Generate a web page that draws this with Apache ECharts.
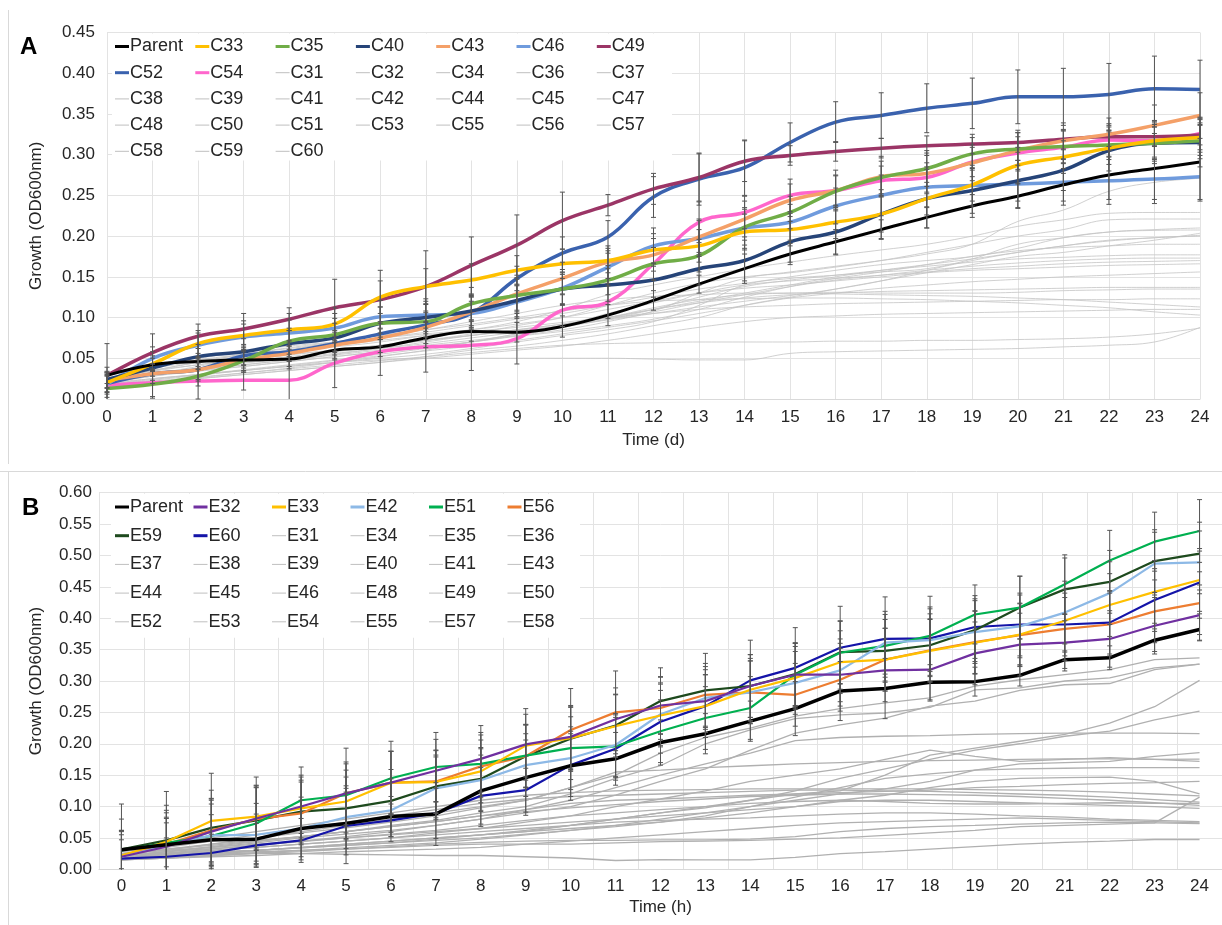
<!DOCTYPE html>
<html>
<head>
<meta charset="utf-8">
<script src="https://cdn.jsdelivr.net/npm/echarts@6/dist/echarts.min.js"></script>
<style>
html,body{margin:0;padding:0;background:#fff;}
#chart{width:1222px;height:925px;}
</style>
</head>
<body>
<div id="chart"></div>
<script>
// ---------- time points ----------
const days = [0,1,2,3,4,5,6,7,8,9,10,11,12,13,14,15,16,17,18,19,20,21,22,23,24];
const hourLabels = ['0','1','2','3','4','5','6','7','8','9','10','11','12','13','14','15','16','17','18','19','20','21','22','23','24'];
const yTicksA = [0,0.05,0.10,0.15,0.20,0.25,0.30,0.35,0.40,0.45];
const yTicksB = [0,0.05,0.10,0.15,0.20,0.25,0.30,0.35,0.40,0.45,0.50,0.55,0.60];

// ---------- panel A: growth over days (OD600) ----------
const parentA = [0.029,0.042,0.046,0.048,0.049,0.060,0.064,0.075,0.083,0.082,0.089,0.103,0.121,0.141,0.160,0.178,0.193,0.208,0.223,0.237,0.249,0.263,0.275,0.283,0.291];
const c33 = [0.020,0.043,0.068,0.078,0.085,0.092,0.125,0.138,0.146,0.158,0.166,0.170,0.183,0.188,0.205,0.208,0.217,0.227,0.246,0.263,0.287,0.297,0.308,0.317,0.321];
const c35 = [0.013,0.018,0.028,0.047,0.071,0.079,0.093,0.095,0.117,0.127,0.135,0.146,0.166,0.176,0.211,0.229,0.255,0.272,0.283,0.301,0.307,0.310,0.312,0.314,0.317];
const c40 = [0.024,0.038,0.052,0.058,0.068,0.075,0.093,0.100,0.108,0.121,0.135,0.140,0.146,0.160,0.170,0.193,0.205,0.227,0.246,0.256,0.268,0.281,0.305,0.314,0.315];
const c43 = [0.023,0.031,0.036,0.048,0.056,0.066,0.075,0.088,0.107,0.129,0.148,0.168,0.177,0.199,0.221,0.244,0.256,0.273,0.277,0.290,0.305,0.317,0.325,0.336,0.348];
const c46 = [0.018,0.050,0.066,0.076,0.081,0.087,0.101,0.103,0.105,0.119,0.136,0.162,0.188,0.197,0.210,0.217,0.237,0.250,0.260,0.262,0.264,0.266,0.268,0.270,0.273];
const c49 = [0.029,0.057,0.077,0.086,0.098,0.112,0.122,0.138,0.164,0.189,0.219,0.238,0.258,0.272,0.292,0.299,0.304,0.308,0.311,0.313,0.315,0.319,0.322,0.322,0.324];
const c52 = [0.019,0.031,0.036,0.053,0.058,0.068,0.080,0.091,0.105,0.148,0.179,0.199,0.248,0.270,0.284,0.315,0.340,0.348,0.357,0.363,0.371,0.371,0.374,0.381,0.380];
const c54 = [0.017,0.020,0.022,0.023,0.023,0.044,0.058,0.064,0.066,0.074,0.109,0.119,0.166,0.217,0.229,0.250,0.256,0.268,0.272,0.291,0.302,0.309,0.318,0.317,0.326];

const c31 = [0.022,0.030,0.036,0.042,0.048,0.054,0.060,0.066,0.072,0.078,0.085,0.095,0.108,0.130,0.148,0.156,0.163,0.170,0.178,0.190,0.218,0.232,0.255,0.266,0.271];
const c32 = [0.025,0.035,0.045,0.052,0.058,0.064,0.070,0.078,0.085,0.095,0.110,0.128,0.140,0.150,0.160,0.168,0.176,0.183,0.190,0.200,0.212,0.220,0.228,0.229,0.229];
const c34 = [0.020,0.030,0.038,0.045,0.052,0.058,0.065,0.072,0.080,0.090,0.100,0.115,0.130,0.142,0.150,0.155,0.162,0.170,0.180,0.190,0.200,0.208,0.220,0.221,0.221];
const c36 = [0.018,0.025,0.030,0.035,0.040,0.045,0.050,0.055,0.062,0.070,0.078,0.085,0.095,0.115,0.140,0.148,0.152,0.156,0.160,0.172,0.190,0.198,0.205,0.208,0.210];
const c37 = [0.030,0.040,0.048,0.055,0.062,0.068,0.075,0.082,0.090,0.098,0.105,0.115,0.125,0.135,0.142,0.150,0.158,0.165,0.170,0.175,0.185,0.198,0.205,0.207,0.2075];
const c38 = [0.015,0.020,0.025,0.030,0.035,0.040,0.045,0.052,0.060,0.065,0.072,0.080,0.090,0.100,0.115,0.125,0.135,0.145,0.155,0.165,0.175,0.180,0.188,0.195,0.2035];
const c39 = [0.025,0.035,0.042,0.050,0.055,0.060,0.066,0.072,0.078,0.085,0.092,0.100,0.110,0.120,0.130,0.140,0.150,0.158,0.165,0.172,0.180,0.188,0.195,0.198,0.201];
const c41 = [0.020,0.028,0.035,0.040,0.046,0.052,0.058,0.063,0.070,0.078,0.088,0.098,0.110,0.125,0.138,0.146,0.152,0.158,0.163,0.168,0.172,0.174,0.176,0.177,0.177];
const c42 = [0.025,0.032,0.038,0.044,0.050,0.056,0.062,0.068,0.075,0.082,0.090,0.098,0.107,0.118,0.128,0.138,0.146,0.152,0.158,0.163,0.167,0.170,0.172,0.173,0.173];
const c44 = [0.018,0.024,0.030,0.036,0.042,0.048,0.055,0.062,0.070,0.080,0.090,0.105,0.118,0.130,0.140,0.145,0.148,0.152,0.156,0.160,0.163,0.166,0.168,0.169,0.170];
const c45 = [0.030,0.042,0.050,0.058,0.065,0.070,0.075,0.080,0.085,0.092,0.100,0.110,0.120,0.130,0.136,0.140,0.145,0.150,0.155,0.158,0.160,0.162,0.164,0.165,0.166];
const c47 = [0.022,0.030,0.036,0.042,0.048,0.055,0.062,0.070,0.078,0.085,0.092,0.100,0.110,0.118,0.124,0.128,0.130,0.132,0.133,0.134,0.135,0.136,0.137,0.137,0.137];
const c48 = [0.015,0.020,0.026,0.032,0.038,0.045,0.052,0.060,0.070,0.080,0.090,0.100,0.112,0.122,0.128,0.130,0.131,0.130,0.130,0.130,0.131,0.133,0.134,0.135,0.135];
const c50 = [0.020,0.030,0.040,0.050,0.060,0.070,0.078,0.085,0.095,0.105,0.115,0.122,0.126,0.128,0.130,0.130,0.129,0.128,0.127,0.126,0.124,0.122,0.119,0.116,0.113];
const c51 = [0.025,0.035,0.045,0.055,0.063,0.070,0.078,0.085,0.092,0.100,0.108,0.115,0.120,0.122,0.123,0.124,0.124,0.123,0.122,0.120,0.118,0.115,0.112,0.107,0.103];
const c53 = [0.015,0.020,0.025,0.030,0.035,0.040,0.045,0.050,0.055,0.060,0.065,0.072,0.080,0.088,0.095,0.100,0.102,0.104,0.105,0.106,0.107,0.108,0.109,0.110,0.110];
const c55 = [0.020,0.025,0.030,0.035,0.040,0.045,0.048,0.050,0.050,0.050,0.050,0.050,0.049,0.048,0.048,0.056,0.058,0.059,0.060,0.061,0.062,0.064,0.066,0.070,0.088];
const c56 = [0.018,0.022,0.027,0.032,0.037,0.042,0.047,0.052,0.057,0.062,0.066,0.068,0.069,0.070,0.070,0.070,0.071,0.071,0.072,0.072,0.073,0.074,0.076,0.080,0.087];
const c57 = [0.020,0.028,0.034,0.040,0.046,0.052,0.058,0.064,0.070,0.077,0.083,0.090,0.098,0.110,0.125,0.138,0.148,0.156,0.165,0.175,0.182,0.186,0.188,0.190,0.190];
const c58 = [0.026,0.034,0.042,0.048,0.054,0.060,0.066,0.072,0.078,0.084,0.090,0.097,0.105,0.113,0.120,0.127,0.135,0.145,0.158,0.170,0.180,0.188,0.194,0.198,0.200];
const c59 = [0.030,0.038,0.046,0.054,0.060,0.066,0.072,0.078,0.083,0.088,0.094,0.100,0.105,0.110,0.113,0.115,0.117,0.118,0.119,0.120,0.121,0.122,0.122,0.123,0.123];
const c60 = [0.017,0.023,0.029,0.035,0.041,0.047,0.053,0.059,0.065,0.072,0.080,0.088,0.096,0.105,0.115,0.124,0.130,0.136,0.140,0.144,0.147,0.150,0.152,0.154,0.156];

// standard deviations of the highlighted strains, panel A
const sdParentA = [0.010,0.008,0.010,0.010,0.012,0.010,0.012,0.012,0.012,0.012,0.013,0.013,0.012,0.011,0.018,0.013,0.015,0.012,0.013,0.014,0.015,0.020,0.030,0.043,0.046];
const sdC33 = [0.012,0.015,0.016,0.018,0.020,0.020,0.020,0.022,0.020,0.018,0.018,0.015,0.020,0.020,0.022,0.020,0.020,0.022,0.020,0.020,0.022,0.020,0.020,0.025,0.022];
const sdC35 = [0.015,0.017,0.012,0.014,0.016,0.020,0.020,0.022,0.020,0.020,0.018,0.018,0.020,0.020,0.022,0.020,0.020,0.020,0.022,0.020,0.020,0.020,0.018,0.020,0.022];
const sdC40 = [0.010,0.015,0.015,0.016,0.016,0.018,0.020,0.020,0.020,0.020,0.020,0.020,0.021,0.020,0.025,0.025,0.028,0.030,0.036,0.028,0.025,0.025,0.025,0.025,0.030];
const sdC43 = [0.010,0.012,0.014,0.015,0.016,0.018,0.018,0.020,0.020,0.020,0.020,0.020,0.020,0.022,0.022,0.020,0.025,0.025,0.025,0.022,0.025,0.022,0.020,0.025,0.028];
const sdC46 = [0.012,0.014,0.015,0.016,0.016,0.018,0.020,0.020,0.020,0.020,0.020,0.020,0.022,0.022,0.025,0.022,0.022,0.025,0.025,0.025,0.029,0.028,0.029,0.025,0.030];
const sdC49 = [0.039,0.023,0.015,0.019,0.014,0.035,0.036,0.044,0.035,0.037,0.035,0.013,0.019,0.029,0.025,0.012,0.012,0.012,0.012,0.012,0.012,0.012,0.012,0.012,0.012];
const sdC52 = [0.010,0.012,0.012,0.012,0.012,0.014,0.015,0.015,0.015,0.015,0.020,0.020,0.025,0.032,0.034,0.024,0.025,0.028,0.030,0.031,0.033,0.035,0.038,0.040,0.036];
const sdC54 = [0.015,0.017,0.022,0.012,0.024,0.030,0.029,0.031,0.031,0.031,0.020,0.020,0.020,0.025,0.020,0.020,0.018,0.018,0.018,0.018,0.020,0.020,0.020,0.020,0.020];

// ---------- panel B: growth over hours (OD600) ----------
const parentB = [0.031,0.039,0.047,0.048,0.065,0.073,0.084,0.088,0.125,0.146,0.165,0.176,0.202,0.216,0.236,0.256,0.284,0.288,0.298,0.299,0.309,0.334,0.337,0.365,0.382];
const e32 = [0.020,0.036,0.060,0.081,0.100,0.121,0.138,0.157,0.176,0.199,0.211,0.239,0.261,0.268,0.292,0.310,0.310,0.317,0.318,0.344,0.358,0.361,0.367,0.388,0.405];
const e33 = [0.022,0.044,0.077,0.084,0.097,0.108,0.138,0.139,0.156,0.197,0.209,0.228,0.245,0.260,0.286,0.305,0.330,0.334,0.348,0.361,0.374,0.396,0.421,0.442,0.461];
const e42 = [0.020,0.038,0.054,0.055,0.065,0.083,0.094,0.129,0.142,0.166,0.177,0.198,0.247,0.273,0.282,0.297,0.317,0.361,0.365,0.378,0.387,0.409,0.440,0.487,0.489];
const e51 = [0.030,0.042,0.053,0.073,0.110,0.118,0.145,0.163,0.168,0.181,0.193,0.196,0.220,0.241,0.257,0.310,0.345,0.356,0.372,0.406,0.417,0.454,0.492,0.522,0.539];
const e56 = [0.022,0.040,0.062,0.080,0.089,0.121,0.138,0.140,0.164,0.180,0.222,0.250,0.257,0.278,0.282,0.278,0.302,0.334,0.349,0.362,0.373,0.383,0.390,0.411,0.424];
const e59 = [0.032,0.046,0.066,0.078,0.092,0.097,0.109,0.132,0.144,0.180,0.208,0.229,0.268,0.285,0.292,0.311,0.346,0.348,0.357,0.381,0.417,0.446,0.458,0.491,0.503];
const e60 = [0.017,0.020,0.026,0.038,0.046,0.069,0.078,0.089,0.117,0.126,0.166,0.192,0.235,0.260,0.301,0.321,0.353,0.367,0.368,0.386,0.390,0.390,0.393,0.429,0.457];

const e31 = [0.030,0.038,0.045,0.050,0.058,0.066,0.075,0.085,0.098,0.110,0.130,0.150,0.185,0.210,0.225,0.244,0.256,0.265,0.273,0.292,0.302,0.310,0.318,0.334,0.337];
const e34 = [0.025,0.032,0.040,0.046,0.052,0.060,0.070,0.078,0.090,0.100,0.120,0.145,0.165,0.200,0.222,0.240,0.246,0.249,0.258,0.286,0.289,0.300,0.305,0.321,0.327];
const e35 = [0.020,0.028,0.035,0.042,0.050,0.056,0.062,0.070,0.080,0.090,0.100,0.118,0.140,0.160,0.190,0.217,0.230,0.241,0.260,0.268,0.285,0.294,0.296,0.318,0.327];
const e36 = [0.020,0.024,0.028,0.030,0.034,0.038,0.042,0.048,0.055,0.060,0.070,0.080,0.090,0.098,0.110,0.120,0.125,0.150,0.182,0.193,0.204,0.215,0.233,0.259,0.301];
const e37 = [0.018,0.022,0.026,0.030,0.035,0.040,0.045,0.050,0.055,0.062,0.070,0.080,0.090,0.100,0.110,0.125,0.145,0.160,0.175,0.190,0.200,0.212,0.220,0.238,0.252];
const e38 = [0.020,0.026,0.032,0.038,0.045,0.052,0.060,0.070,0.080,0.095,0.110,0.130,0.150,0.168,0.185,0.205,0.210,0.212,0.213,0.215,0.216,0.217,0.217,0.217,0.216];
const e39 = [0.015,0.018,0.022,0.026,0.030,0.034,0.038,0.042,0.048,0.055,0.062,0.070,0.080,0.090,0.100,0.110,0.120,0.128,0.140,0.158,0.168,0.170,0.172,0.180,0.186];
const e40 = [0.025,0.030,0.040,0.050,0.060,0.070,0.080,0.090,0.100,0.110,0.130,0.155,0.158,0.162,0.165,0.168,0.170,0.172,0.173,0.174,0.175,0.176,0.176,0.175,0.1755];
const e41 = [0.020,0.025,0.030,0.035,0.040,0.045,0.050,0.058,0.065,0.075,0.085,0.100,0.112,0.125,0.140,0.150,0.160,0.175,0.190,0.180,0.172,0.175,0.178,0.175,0.172];
const e43 = [0.015,0.020,0.025,0.030,0.035,0.040,0.045,0.050,0.055,0.060,0.065,0.070,0.075,0.085,0.100,0.115,0.130,0.145,0.152,0.158,0.160,0.161,0.162,0.162,0.162];
const e44 = [0.030,0.040,0.050,0.060,0.070,0.080,0.090,0.100,0.110,0.118,0.122,0.125,0.126,0.127,0.128,0.128,0.128,0.128,0.128,0.127,0.126,0.125,0.123,0.120,0.117];
const e45 = [0.028,0.035,0.045,0.055,0.065,0.075,0.085,0.095,0.105,0.112,0.116,0.118,0.120,0.122,0.124,0.126,0.126,0.125,0.124,0.122,0.120,0.118,0.115,0.111,0.107];
const e46 = [0.020,0.028,0.036,0.044,0.052,0.060,0.068,0.076,0.085,0.092,0.098,0.103,0.108,0.112,0.116,0.118,0.120,0.120,0.119,0.118,0.116,0.113,0.110,0.106,0.102];
const e48 = [0.025,0.030,0.035,0.040,0.045,0.050,0.055,0.060,0.065,0.070,0.075,0.080,0.085,0.090,0.095,0.100,0.108,0.110,0.110,0.108,0.106,0.104,0.102,0.100,0.097];
const e49 = [0.020,0.025,0.030,0.035,0.040,0.045,0.050,0.055,0.060,0.065,0.070,0.075,0.078,0.080,0.082,0.085,0.088,0.090,0.090,0.088,0.085,0.083,0.080,0.078,0.076];
const e50 = [0.015,0.018,0.020,0.022,0.025,0.028,0.030,0.032,0.035,0.040,0.045,0.050,0.055,0.060,0.065,0.070,0.074,0.076,0.078,0.080,0.082,0.080,0.078,0.076,0.074];
const e52 = [0.020,0.022,0.025,0.028,0.030,0.032,0.035,0.038,0.040,0.040,0.040,0.042,0.044,0.045,0.046,0.048,0.050,0.054,0.058,0.062,0.068,0.070,0.072,0.074,0.115];
const e53 = [0.020,0.022,0.024,0.026,0.025,0.024,0.023,0.022,0.022,0.020,0.018,0.014,0.0155,0.015,0.015,0.019,0.025,0.028,0.032,0.036,0.040,0.043,0.045,0.0475,0.0475];
const e54 = [0.015,0.018,0.022,0.025,0.028,0.032,0.036,0.040,0.043,0.045,0.046,0.046,0.047,0.047,0.048,0.052,0.060,0.065,0.068,0.070,0.072,0.074,0.075,0.074,0.073];
const e55 = [0.022,0.028,0.033,0.038,0.044,0.050,0.056,0.062,0.070,0.078,0.085,0.090,0.095,0.100,0.105,0.108,0.110,0.108,0.105,0.104,0.104,0.105,0.106,0.105,0.105];
const e57 = [0.018,0.022,0.026,0.030,0.034,0.038,0.042,0.046,0.050,0.056,0.062,0.068,0.075,0.082,0.090,0.100,0.110,0.118,0.130,0.140,0.145,0.146,0.147,0.140,0.120];
const e58 = [0.025,0.032,0.038,0.045,0.052,0.060,0.068,0.076,0.085,0.095,0.105,0.110,0.112,0.115,0.118,0.120,0.122,0.124,0.126,0.130,0.132,0.135,0.137,0.138,0.140];

// standard deviations of the highlighted strains, panel B
const sdParentB = [0.030,0.035,0.040,0.040,0.045,0.050,0.032,0.050,0.057,0.060,0.055,0.042,0.036,0.032,0.032,0.043,0.047,0.048,0.028,0.023,0.017,0.014,0.019,0.018,0.018];
const sdE32 = [0.040,0.045,0.050,0.050,0.050,0.050,0.050,0.050,0.053,0.057,0.050,0.050,0.045,0.050,0.050,0.050,0.050,0.050,0.050,0.050,0.050,0.045,0.045,0.045,0.040];
const sdE33 = [0.040,0.050,0.076,0.050,0.050,0.050,0.050,0.050,0.050,0.050,0.050,0.050,0.050,0.050,0.050,0.050,0.050,0.050,0.050,0.050,0.050,0.050,0.050,0.050,0.050];
const sdE42 = [0.035,0.045,0.050,0.050,0.050,0.050,0.050,0.050,0.050,0.050,0.050,0.050,0.050,0.050,0.050,0.050,0.050,0.050,0.050,0.050,0.050,0.050,0.050,0.050,0.050];
const sdE51 = [0.050,0.060,0.060,0.060,0.053,0.050,0.059,0.055,0.050,0.050,0.050,0.050,0.050,0.050,0.050,0.050,0.050,0.050,0.063,0.047,0.050,0.047,0.048,0.047,0.050];
const sdE56 = [0.040,0.050,0.050,0.050,0.050,0.072,0.050,0.050,0.050,0.050,0.066,0.066,0.050,0.050,0.050,0.050,0.050,0.050,0.050,0.050,0.050,0.050,0.050,0.050,0.050];
const sdE59 = [0.072,0.078,0.060,0.069,0.050,0.050,0.050,0.050,0.050,0.050,0.050,0.050,0.053,0.059,0.050,0.050,0.050,0.050,0.050,0.050,0.050,0.050,0.050,0.050,0.050];
const sdE60 = [0.030,0.030,0.030,0.035,0.035,0.060,0.026,0.040,0.045,0.035,0.050,0.050,0.050,0.050,0.064,0.064,0.066,0.067,0.050,0.050,0.050,0.050,0.050,0.050,0.050];

// ---------- series definitions ----------
const highlightA = [
  ['Parent', parentA, sdParentA, '#000000'],
  ['C33', c33, sdC33, '#FFC000'],
  ['C35', c35, sdC35, '#70AD47'],
  ['C40', c40, sdC40, '#264478'],
  ['C43', c43, sdC43, '#F4A068'],
  ['C46', c46, sdC46, '#6F9BDD'],
  ['C49', c49, sdC49, '#9B3566'],
  ['C52', c52, sdC52, '#3A62AE'],
  ['C54', c54, sdC54, '#FF66CC']
];
const otherA = [
  ['C31', c31], ['C32', c32], ['C34', c34], ['C36', c36], ['C37', c37], ['C38', c38],
  ['C39', c39], ['C41', c41], ['C42', c42], ['C44', c44], ['C45', c45], ['C47', c47],
  ['C48', c48], ['C50', c50], ['C51', c51], ['C53', c53], ['C55', c55], ['C56', c56],
  ['C57', c57], ['C58', c58], ['C59', c59], ['C60', c60]
];
const highlightB = [
  ['Parent', parentB, sdParentB, '#000000'],
  ['E32', e32, sdE32, '#7030A0'],
  ['E33', e33, sdE33, '#FFC000'],
  ['E42', e42, sdE42, '#8DB9E6'],
  ['E51', e51, sdE51, '#00B050'],
  ['E56', e56, sdE56, '#ED7D31'],
  ['E59', e59, sdE59, '#1E4A1E'],
  ['E60', e60, sdE60, '#1414A8']
];
const otherB = [
  ['E31', e31], ['E34', e34], ['E35', e35], ['E36', e36], ['E37', e37], ['E38', e38],
  ['E39', e39], ['E40', e40], ['E41', e41], ['E43', e43], ['E44', e44], ['E45', e45],
  ['E46', e46], ['E48', e48], ['E49', e49], ['E50', e50], ['E52', e52], ['E53', e53],
  ['E54', e54], ['E55', e55], ['E57', e57], ['E58', e58]
];

const FONT = 'Liberation Sans, Arial, sans-serif';
const TEXT = '#262626';
const GRID_LINE = '#E3E3E3';
const GRAY_A = '#C4C4C4';
const GRAY_B = '#B0B0B0';
const BAR = '#555555';

// vertical error bar with caps, clipped at the plot floor
function errorBar(params, api) {
  const cs = params.coordSys;
  const floor = cs.y + cs.height;
  const x = api.value(0);
  const hi = api.coord([x, api.value(2)]);
  const lo = api.coord([x, api.value(1)]);
  const yLo = Math.min(lo[1], floor);
  const cap = 2.5;
  const style = { stroke: BAR, lineWidth: 1 };
  const kids = [
    { type: 'line', shape: { x1: hi[0], y1: hi[1], x2: hi[0], y2: yLo }, style },
    { type: 'line', shape: { x1: hi[0] - cap, y1: hi[1], x2: hi[0] + cap, y2: hi[1] }, style }
  ];
  if (lo[1] <= floor) {
    kids.push({ type: 'line', shape: { x1: lo[0] - cap, y1: lo[1], x2: lo[0] + cap, y2: lo[1] }, style });
  }
  return { type: 'group', children: kids };
}

function barRows(list, xs) {
  const rows = [];
  list.forEach(function (s) {
    s[1].forEach(function (v, i) { rows.push([xs[i], v - s[2][i], v + s[2][i]]); });
  });
  return rows;
}

const series = [];
// panel A, grid 0
otherA.forEach(function (s) {
  series.push({
    name: s[0], type: 'line', xAxisIndex: 0, yAxisIndex: 0, z: 2,
    data: days.map(function (d, i) { return [d, s[1][i]]; }),
    smooth: 0.4, showSymbol: false, silent: true,
    lineStyle: { color: GRAY_A, width: 0.8 }, itemStyle: { color: '#BFBFBF' }
  });
});
highlightA.slice().reverse().forEach(function (s) {
  series.push({
    name: s[0], type: 'line', xAxisIndex: 0, yAxisIndex: 0, z: 3,
    data: days.map(function (d, i) { return [d, s[1][i]]; }),
    smooth: 0.4, showSymbol: false, silent: true,
    lineStyle: { color: s[3], width: s[0] === 'Parent' ? 3 : 3.5 }, itemStyle: { color: s[3] }
  });
});
series.push({
  name: 'sdA', type: 'custom', xAxisIndex: 0, yAxisIndex: 0, z: 5, silent: true,
  renderItem: errorBar, encode: { x: 0, y: [1, 2] }, data: barRows(highlightA, days)
});
// panel B, grid 1
const idx = hourLabels.map(function (h, i) { return i; });
otherB.forEach(function (s) {
  series.push({
    name: s[0], type: 'line', xAxisIndex: 1, yAxisIndex: 1, z: 2,
    data: s[1], showSymbol: false, silent: true,
    lineStyle: { color: GRAY_B, width: 1.3 }, itemStyle: { color: '#BFBFBF' }
  });
});
highlightB.slice(1).reverse().forEach(function (s) {
  series.push({
    name: s[0], type: 'line', xAxisIndex: 1, yAxisIndex: 1, z: 3,
    data: s[1], showSymbol: false, silent: true,
    lineStyle: { color: s[3], width: 2.2 }, itemStyle: { color: s[3] }
  });
});
series.push({
  name: 'Parent', type: 'line', xAxisIndex: 1, yAxisIndex: 1, z: 4,
  data: parentB, showSymbol: false, silent: true,
  lineStyle: { color: '#000000', width: 3.5 }, itemStyle: { color: '#000000' }
});
series.push({
  name: 'sdB', type: 'custom', xAxisIndex: 1, yAxisIndex: 1, z: 5, silent: true,
  renderItem: errorBar, encode: { x: 0, y: [1, 2] }, data: barRows(highlightB, idx)
});

// ---------- legends: one entry per cell of a fixed table ----------
const legendOrderA = highlightA.map(function (s) { return s[0]; }).concat(otherA.map(function (s) { return s[0]; }));
const legendOrderB = highlightB.map(function (s) { return s[0]; }).concat(otherB.map(function (s) { return s[0]; }));
const legends = [];
function addLegend(names, cols, x0, dx, y0, dy, nHighlight) {
  names.forEach(function (n, k) {
    const c = k % cols, r = Math.floor(k / cols);
    const strong = k < nHighlight;
    legends.push({
      data: [n], left: x0 + c * dx, top: y0 + r * dy - 9, padding: 0,
      icon: 'rect', itemWidth: 14, itemHeight: strong ? 3 : 1, itemGap: 0,
      selectedMode: false,
      textStyle: { fontSize: 18, color: TEXT, fontFamily: FONT, padding: [0, 0, 0, -4] }
    });
  });
}
addLegend(legendOrderA, 7, 115, 80.3, 46.5, 26.2, highlightA.length);
addLegend(legendOrderB, 6, 115, 78.5, 507, 28.7, highlightB.length);

const axisLabel = { fontSize: 17, color: TEXT, fontFamily: FONT };
const nameStyle = { fontSize: 17, color: TEXT, fontFamily: FONT };

const option = {
  animation: false,
  backgroundColor: '#ffffff',
  grid: [
    { left: 107, top: 32.5, width: 1093, height: 366.5 },
    { left: 99, top: 492.7, width: 1134.4, height: 376.6 }
  ],
  xAxis: [
    {
      type: 'value', gridIndex: 0, min: 0, max: 24, interval: 1,
      name: 'Time (d)', nameLocation: 'middle', nameGap: 33, nameTextStyle: nameStyle,
      axisLine: { show: true, lineStyle: { color: '#D9D9D9' } }, axisTick: { show: false },
      axisLabel: Object.assign({ margin: 10 }, axisLabel),
      splitLine: { show: true, lineStyle: { color: GRID_LINE, width: 1 } }
    },
    {
      type: 'category', gridIndex: 1, data: hourLabels, boundaryGap: true,
      name: 'Time (h)', nameLocation: 'middle', nameGap: 30, nameTextStyle: nameStyle,
      axisLine: { show: true, lineStyle: { color: '#D9D9D9' } }, axisTick: { show: false },
      axisLabel: Object.assign({ margin: 9, interval: 0 }, axisLabel),
      splitLine: { show: true, interval: 0, lineStyle: { color: GRID_LINE, width: 1 } }
    }
  ],
  yAxis: [
    {
      type: 'value', gridIndex: 0, min: yTicksA[0], max: yTicksA[yTicksA.length - 1], interval: 0.05,
      name: 'Growth (OD600nm)', nameLocation: 'middle', nameGap: 62, nameTextStyle: nameStyle,
      axisLine: { show: false }, axisTick: { show: false },
      axisLabel: Object.assign({ margin: 12, formatter: function (v) { return v.toFixed(2); } }, axisLabel),
      splitLine: { show: true, lineStyle: { color: GRID_LINE, width: 1 } }
    },
    {
      type: 'value', gridIndex: 1, min: yTicksB[0], max: yTicksB[yTicksB.length - 1], interval: 0.05,
      name: 'Growth (OD600nm)', nameLocation: 'middle', nameGap: 54, nameTextStyle: nameStyle,
      axisLine: { show: false }, axisTick: { show: false },
      axisLabel: Object.assign({ margin: 7, formatter: function (v) { return v.toFixed(2); } }, axisLabel),
      splitLine: { show: true, lineStyle: { color: GRID_LINE, width: 1 } }
    }
  ],
  legend: legends,
  graphic: [
    // panel frames
    { type: 'line', z: 1, shape: { x1: 8.5, y1: 10, x2: 8.5, y2: 464 }, style: { stroke: '#D9D9D9', lineWidth: 1 } },
    { type: 'line', z: 1, shape: { x1: 0, y1: 471.5, x2: 1222, y2: 471.5 }, style: { stroke: '#D9D9D9', lineWidth: 1 } },
    { type: 'line', z: 1, shape: { x1: 8.5, y1: 472, x2: 8.5, y2: 925 }, style: { stroke: '#D9D9D9', lineWidth: 1 } },
    // legend backdrops
    { type: 'rect', z: 1, shape: { x: 112, y: 33.5, width: 560, height: 127 }, style: { fill: '#ffffff' } },
    { type: 'rect', z: 1, shape: { x: 111, y: 493.7, width: 469, height: 144 }, style: { fill: '#ffffff' } },
    // panel letters
    { type: 'text', z: 6, left: 20, top: 35, style: { text: 'A', fontSize: 24, fontWeight: 'bold', fill: '#000', fontFamily: FONT } },
    { type: 'text', z: 6, left: 22, top: 496, style: { text: 'B', fontSize: 24, fontWeight: 'bold', fill: '#000', fontFamily: FONT } }
  ],
  series: series
};

const chart = echarts.init(document.getElementById('chart'), null, { renderer: 'canvas' });
chart.setOption(option);
</script>
</body>
</html>
